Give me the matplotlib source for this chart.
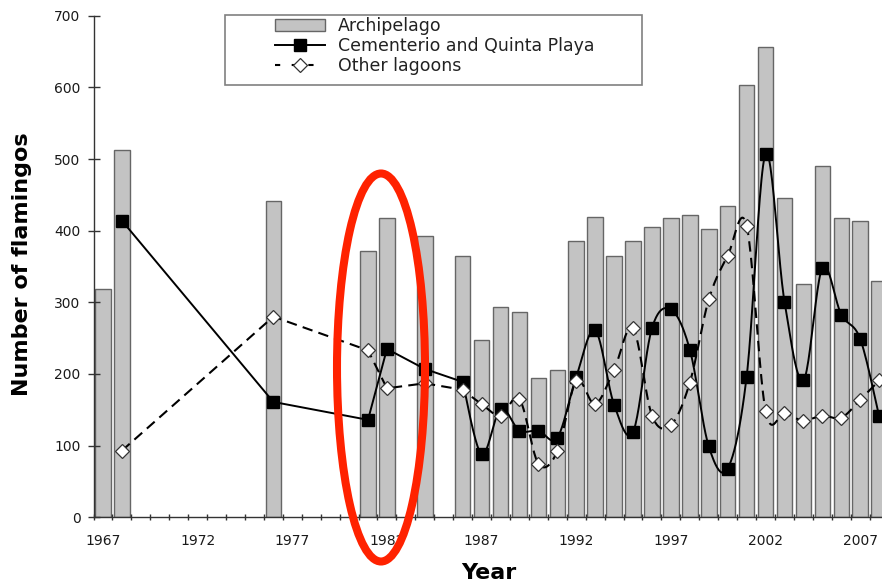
import numpy as np
import matplotlib
matplotlib.use("Agg")
import matplotlib.pyplot as plt
from matplotlib.patches import Ellipse, Rectangle

# ---------------- data ----------------
bar_years = [1967, 1968, 1976, 1981, 1982, 1984,
             1986, 1987, 1988, 1989, 1990, 1991, 1992, 1993, 1994, 1995, 1996,
             1997, 1998, 1999, 2000, 2001, 2002, 2003, 2004, 2005, 2006, 2007, 2008]
archipelago = [318, 512, 442, 372, 418, 393,
               365, 248, 294, 287, 195, 205, 386, 419, 365, 386, 405,
               418, 422, 402, 435, 603, 656, 446, 326, 490, 418, 414, 330]

line_years = [1968, 1976, 1981, 1982, 1984,
              1986, 1987, 1988, 1989, 1990, 1991, 1992, 1993, 1994, 1995, 1996,
              1997, 1998, 1999, 2000, 2001, 2002, 2003, 2004, 2005, 2006, 2007, 2008]
cementerio = [414, 161, 136, 235, 207,
              189, 88, 151, 121, 121, 111, 196, 261, 157, 119, 264,
              290, 234, 99, 68, 196, 507, 301, 191, 348, 283, 249, 141]
other_lagoons = [93, 280, 233, 180, 187,
                 178, 158, 142, 165, 75, 92, 190, 158, 206, 264, 142,
                 129, 188, 304, 365, 407, 149, 145, 135, 142, 139, 164, 191]

tick_years = [1967, 1972, 1977, 1982, 1987, 1992, 1997, 2002, 2007]
y_ticks = [0, 100, 200, 300, 400, 500, 600, 700]

labels = ["Archipelago", "Cementerio and Quinta Playa", "Other lagoons"]


def smooth(xs, ys, n=24):
    """Excel-like Bezier smoothing inside runs of consecutive years."""
    xs = list(xs); ys = list(ys)
    px, py = [xs[0]], [ys[0]]
    N = len(xs)
    t = np.linspace(0, 1, n)[1:]
    for i in range(N - 1):
        x0, y0, x1, y1 = xs[i], ys[i], xs[i + 1], ys[i + 1]
        if x1 - x0 > 1:
            px.append(x1); py.append(y1); continue
        if i > 0 and xs[i] - xs[i - 1] == 1:
            xp, yp = xs[i - 1], ys[i - 1]
        else:
            xp, yp = x0, y0
        if i + 2 < N and xs[i + 2] - xs[i + 1] == 1:
            xn, yn = xs[i + 2], ys[i + 2]
        else:
            xn, yn = x1, y1
        c1x, c1y = x0 + (x1 - xp) / 6, y0 + (y1 - yp) / 6
        c2x, c2y = x1 - (xn - x0) / 6, y1 - (yn - y0) / 6
        bx = (1 - t) ** 3 * x0 + 3 * (1 - t) ** 2 * t * c1x + 3 * (1 - t) * t ** 2 * c2x + t ** 3 * x1
        by = (1 - t) ** 3 * y0 + 3 * (1 - t) ** 2 * t * c1y + 3 * (1 - t) * t ** 2 * c2y + t ** 3 * y1
        px.extend(bx); py.extend(by)
    return np.array(px), np.array(py)


W, H = 882, 586
fig = plt.figure(figsize=(W / 100, H / 100), dpi=100)

x_left, x_right = 1966.5, 2008.5
ax_l_px, ax_r_px = 93.5, 888.6
ax_t_px, ax_b_px = 15.7, 517.3
ax = fig.add_axes([ax_l_px / W, 1 - ax_b_px / H, (ax_r_px - ax_l_px) / W, (ax_b_px - ax_t_px) / H])

bars = ax.bar(bar_years, archipelago, width=0.82, color="#c3c3c3",
              edgecolor="#666666", linewidth=1.0, zorder=1, label=labels[0])

sx, sy = smooth(line_years, cementerio)
ax.plot(sx, sy, color="black", lw=1.4, zorder=3)
ax.plot(line_years, cementerio, ls="none", marker="s", ms=8.5, mfc="black",
        mec="black", zorder=4)

ox, oy = smooth(line_years, other_lagoons)
ax.plot(ox, oy, color="black", lw=1.5, dashes=(5, 3), zorder=5)
ax.plot(line_years, other_lagoons, ls="none", marker="D", ms=6.8, mfc="white",
        mec="#333333", mew=0.9, zorder=6)

# legend proxies
h_line = plt.Line2D([], [], color="black", lw=1.4, marker="s", ms=8.5, mfc="black")
h_dash = plt.Line2D([], [], color="black", lw=1.5, dashes=(2.5, 5.5), marker="D", ms=6.8,
                    mfc="white", mec="#333333", mew=0.9)

ax.set_xlim(x_left, x_right)
ax.set_ylim(0, 700)

ax.set_xticks(tick_years)
ax.set_xticklabels([str(y) for y in tick_years])
ax.set_xticks(np.arange(1966.5, 2009, 1.0), minor=True)
ax.tick_params(axis="x", which="major", length=0, pad=12, labelsize=10, labelcolor="#1a1a1a")
ax.tick_params(axis="x", which="minor", direction="inout", length=5, width=1.0, color="#333333")
ax.set_yticks(y_ticks)
ax.tick_params(axis="y", which="major", direction="inout", length=8.6, width=1.0,
               color="#333333", pad=5, labelsize=10, labelcolor="#1a1a1a")

for s in ["top", "right"]:
    ax.spines[s].set_visible(False)
for s in ["left", "bottom"]:
    ax.spines[s].set_color("#333333")
    ax.spines[s].set_linewidth(1.0)

# axis titles
fig.text(22 / W, 1 - 264 / H, "Number of flamingos", rotation=90, fontsize=16,
         fontweight="bold", color="black", ha="center", va="center")
fig.text(489 / W, 1 - 573 / H, "Year", fontsize=16, fontweight="bold",
         color="black", ha="center", va="center")

leg = ax.legend([bars, h_line, h_dash], labels, loc="upper left",
                bbox_to_anchor=(275 / W, 1 - 17 / H), bbox_transform=fig.transFigure,
                frameon=False, fontsize=12.5, borderpad=0, borderaxespad=0,
                handlelength=2.9, handletextpad=0.7, labelspacing=0.12)
for t in leg.get_texts():
    t.set_color("#222222")

fig.add_artist(Rectangle((225 / W, 1 - 85 / H), (642 - 225) / W, (85 - 15) / H,
                         transform=fig.transFigure, fill=False, edgecolor="#808080",
                         lw=1.2, zorder=2))

fig.add_artist(Ellipse((381 / W, 1 - 367.5 / H), 88 / W, 388 / H, transform=fig.transFigure,
                       fill=False, edgecolor="#ff2200", lw=5.8, zorder=10))

fig.savefig("out.png", dpi=100)
